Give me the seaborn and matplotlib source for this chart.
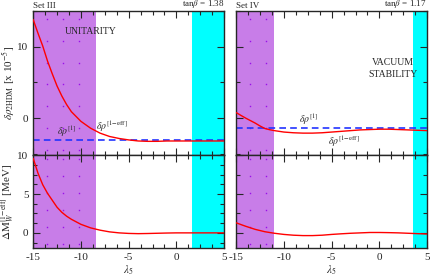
import matplotlib
matplotlib.use("Agg")
import numpy as np
import matplotlib.pyplot as plt
from matplotlib.ticker import MultipleLocator
import seaborn as sns

# lambda_5 grid the curves were read on
lam = [-15, -14.5, -14, -13.5, -13, -12.5, -12, -11.5, -11, -10, -9, -8, -7, -6,
       -5, -4, -3, -2, -1, 0, 1, 2, 3, 4, 5]

# Set III (tan beta = 1.38)
rho_eff_3 = [13.8, 11.9, 10.1, 8.0, 6.2, 4.5, 3.1, 1.9, 0.9, -0.45, -1.4, -2.1, -2.57, -2.85,
             -3.05, -3.2, -3.25, -3.25, -3.2, -3.2, -3.2, -3.2, -3.2, -3.2, -3.2]
rho_1_3 = -3.12
dmw_3 = [9.6, 7.7, 6.2, 5.1, 4.2, 3.3, 2.65, 2.15, 1.75, 1.1, 0.65, 0.35, 0.13, 0.0,
         -0.07, -0.1, -0.08, -0.05, -0.02, 0.0, 0.0, 0.0, 0.0, 0.0, 0.0]

# Set IV (tan beta = 1.17)
rho_eff_4 = [0.78, 0.38, 0.0, -0.35, -0.7, -1.1, -1.45, -1.62, -1.75, -1.95, -2.05, -2.1, -2.1, -2.05,
             -1.95, -1.85, -1.75, -1.65, -1.6, -1.55, -1.55, -1.6, -1.65, -1.7, -1.75]
rho_1_4 = -1.45
dmw_4 = [1.3, 1.07, 0.85, 0.65, 0.45, 0.3, 0.15, 0.05, -0.05, -0.2, -0.3, -0.35, -0.35, -0.3,
         -0.2, -0.12, -0.05, 0.0, 0.05, 0.05, 0.03, 0.0, -0.05, -0.1, -0.15]

# excluded regions (lambda_5 limits)
unitarity = {"III": (-15, -8.4), "IV": (-15, -11.0)}
vacuum = {"III": (1.6, 5), "IV": (3.5, 5)}

sns.set_style("ticks")
plt.rcParams["font.family"] = ["Liberation Serif", "DejaVu Serif"]
plt.rcParams["mathtext.fontset"] = "stix"
plt.rcParams["axes.unicode_minus"] = False

fig, axes = plt.subplots(2, 2, figsize=(4.31, 2.76), dpi=100, sharex=True,
                         gridspec_kw={"height_ratios": [144, 93]})
fig.subplots_adjust(left=0.077, right=0.991, top=0.960, bottom=0.100,
                    hspace=0, wspace=0.063)

purple = "#c87de8"
cyan = "#00ffff"
sets = [("III", "1.38", rho_eff_3, rho_1_3, dmw_3),
        ("IV", "1.17", rho_eff_4, rho_1_4, dmw_4)]


def dotted_span(ax, lo, hi, row_step):
    # purple band with a sparse grid of small dots
    ax.axvspan(lo, hi, facecolor=purple, linewidth=0, zorder=0)
    xs = np.arange(lo + 1.4, hi - 0.3, 1.7)
    ys = np.arange(row_step / 4, 1.0, row_step)
    gx, gy = np.meshgrid(xs, ys)
    ax.plot(gx.ravel(), gy.ravel(), linestyle="none", marker="s", markersize=1.0,
            markeredgewidth=0, color="#9a10e8", transform=ax.get_xaxis_transform(), zorder=1)


for col, (name, tanb, rho_eff, rho_1, dmw) in enumerate(sets):
    ax_top = axes[0, col]
    ax_bot = axes[1, col]
    for ax, step in ((ax_top, 0.151), (ax_bot, 0.183)):
        dotted_span(ax, *unitarity[name], step)
        ax.axvspan(*vacuum[name], facecolor=cyan, linewidth=0, zorder=0)
        ax.tick_params(which="both", direction="in", top=True, right=True,
                       labelsize=8, width=0.8)
        ax.tick_params(which="major", length=5)
        ax.tick_params(which="minor", length=3)
        for sp in ax.spines.values():
            sp.set_linewidth(1.0)

    # delta rho panel
    ax_top.axhline(rho_1, color="#2233ff", linestyle=(0, (4, 2.5)), linewidth=1.2, zorder=2)
    sns.lineplot(x=lam, y=rho_eff, ax=ax_top, color="red", linewidth=1.0, zorder=3)
    ax_top.set_ylim(-5.2, 15)
    ax_top.yaxis.set_major_locator(MultipleLocator(10))
    ax_top.yaxis.set_minor_locator(MultipleLocator(5))
    ax_top.text(0.0, 1.004, "Set " + name, transform=ax_top.transAxes,
                ha="left", va="bottom", fontsize=6.5)
    ax_top.text(1.0, 1.004, r"tan$\beta$ = " + tanb, transform=ax_top.transAxes,
                ha="right", va="bottom", fontsize=6.5)

    # Delta M_W panel
    sns.lineplot(x=lam, y=dmw, ax=ax_bot, color="red", linewidth=1.0, zorder=3)
    ax_bot.set_ylim(-2, 10)
    ax_bot.yaxis.set_major_locator(MultipleLocator(5))
    ax_bot.yaxis.set_minor_locator(MultipleLocator(1.25 if col == 0 else 2.5))
    ax_bot.set_xlabel(r"$\lambda_5$", fontsize=8, labelpad=1)

    if col == 1:
        ax_top.tick_params(labelleft=False)
        ax_bot.tick_params(labelleft=False)
    ax_top.set_ylabel("")
    ax_bot.set_ylabel("")

for ax in axes.ravel():
    ax.set_xlim(-15, 5)
    ax.xaxis.set_major_locator(MultipleLocator(5))
    ax.xaxis.set_minor_locator(MultipleLocator(1.25))

axes[0, 0].set_ylabel(r"$\delta\rho_{\mathrm{2HDM}}$ [x 10$^{-5}$]", fontsize=8)
axes[1, 0].set_ylabel(r"$\Delta\mathrm{M}_W^{\mathrm{[1\!-\!eff]}}$ [MeV]", fontsize=8)
axes[0, 0].yaxis.set_label_coords(-0.085, 0.5)
axes[1, 0].yaxis.set_label_coords(-0.085, 0.5)

# annotations
axes[0, 0].text(-9.0, 12.1, "UNITARITY", fontsize=7, ha="center", va="center")
axes[0, 0].text(-12.5, -1.9, r"$\delta\rho^{[1]}$", fontsize=7, ha="left", va="center")
axes[0, 0].text(-8.4, -1.15, r"$\delta\rho^{[1\mathrm{-eff}]}$", fontsize=7, ha="left", va="center")
axes[0, 1].text(1.4, 6.95, "VACUUM\nSTABILITY", fontsize=7, ha="center", va="center",
                linespacing=1.3)
axes[0, 1].text(-8.4, -0.2, r"$\delta\rho^{[1]}$", fontsize=7, ha="left", va="center")
axes[0, 1].text(-5.4, -3.3, r"$\delta\rho^{[1\mathrm{-eff}]}$", fontsize=7, ha="left", va="center")

fig.savefig("out.png", dpi=100)
